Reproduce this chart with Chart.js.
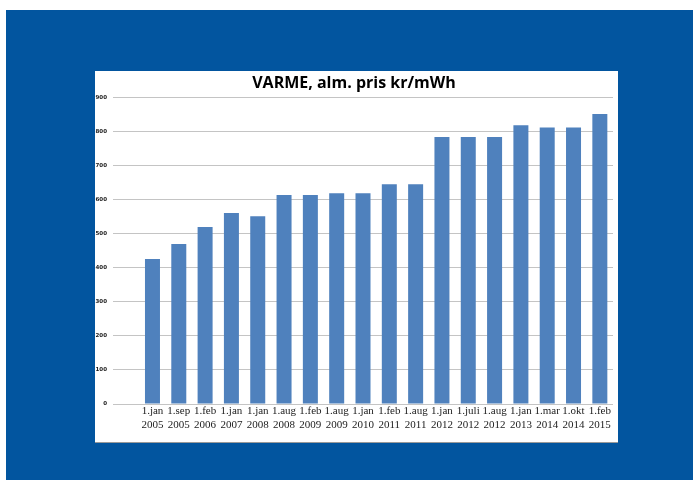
<!DOCTYPE html>
<html lang="da">
<head>
  <meta charset="UTF-8">
  <title>VARME</title>
  <script src="https://cdn.jsdelivr.net/npm/chart.js"></script>
  <style>
    html, body { margin: 0; padding: 0; background: #ffffff; }
    #blue {
      position: absolute; left: 6px; top: 10px; width: 687px; height: 470px;
      background-color: #02559f;
    }
    #panel {
      position: absolute; left: 95px; top: 71px; width: 523px; height: 371px;
      background: #ffffff; box-shadow: 0 1px 0 #9a9a9a;
    }
  </style>
</head>
<body>
  <div id="blue"></div>
  <div id="panel">
    <canvas id="varme-chart" width="523" height="371"></canvas>
  </div>

<script>
  // kategorier (første er tom, som i Excel-diagrammet)
  const datoer = [
    '', ['1.jan', '2005'], ['1.sep', '2005'], ['1.feb', '2006'], ['1.jan', '2007'],
    ['1.jan', '2008'], ['1.aug', '2008'], ['1.feb', '2009'], ['1.aug', '2009'],
    ['1.jan', '2010'], ['1.feb', '2011'], ['1.aug', '2011'], ['1.jan', '2012'],
    ['1.juli', '2012'], ['1.aug', '2012'], ['1.jan', '2013'], ['1.mar', '2014'],
    ['1.okt', '2014'], ['1.feb', '2015']
  ];
  // pris kr/mWh
  const priser = [null, 425, 469, 519, 560, 551, 613, 613, 618, 618, 645, 645, 783, 783, 783, 818, 811, 811, 851];
  const yTicks = [0, 100, 200, 300, 400, 500, 600, 700, 800, 900];

  const ctx = document.getElementById('varme-chart').getContext('2d');

  new Chart(ctx, {
    type: 'bar',
    data: {
      labels: datoer,
      datasets: [{
        label: 'alm. pris',
        data: priser,
        backgroundColor: '#4f81bd',
        borderWidth: 0,
        barPercentage: 0.57,
        categoryPercentage: 1
      }]
    },
    options: {
      responsive: false,
      maintainAspectRatio: false,
      animation: false,
      layout: { padding: { left: 0, right: 5, top: 0, bottom: 0 } },
      plugins: {
        legend: { display: false },
        tooltip: { enabled: false },
        title: {
          display: true,
          text: 'VARME, alm. pris kr/mWh',
          color: '#000000',
          font: { family: 'Open Sans', size: 16, weight: 'bold' },
          padding: { top: 3, bottom: 4 }
        }
      },
      scales: {
        x: {
          grid: { display: false, drawTicks: false },
          border: { display: false },
          ticks: {
            color: '#222222',
            font: { family: 'Liberation Serif', size: 11, lineHeight: 1.27 },
            padding: 0,
            maxRotation: 0,
            autoSkip: false
          },
          afterFit: (scale) => { scale.height = 38; }
        },
        y: {
          min: 0,
          max: 900,
          afterBuildTicks: (scale) => { scale.ticks = yTicks.map(v => ({ value: v })); },
          grid: { color: '#c4c4c4', lineWidth: 1, drawTicks: false },
          border: { display: false },
          ticks: {
            color: '#1a1a1a',
            font: { family: 'DejaVu Sans', size: 5.5, weight: 'bold' },
            padding: 6
          },
          afterFit: (scale) => { scale.width = 18; }
        }
      }
    }
  });
</script>
</body>
</html>
